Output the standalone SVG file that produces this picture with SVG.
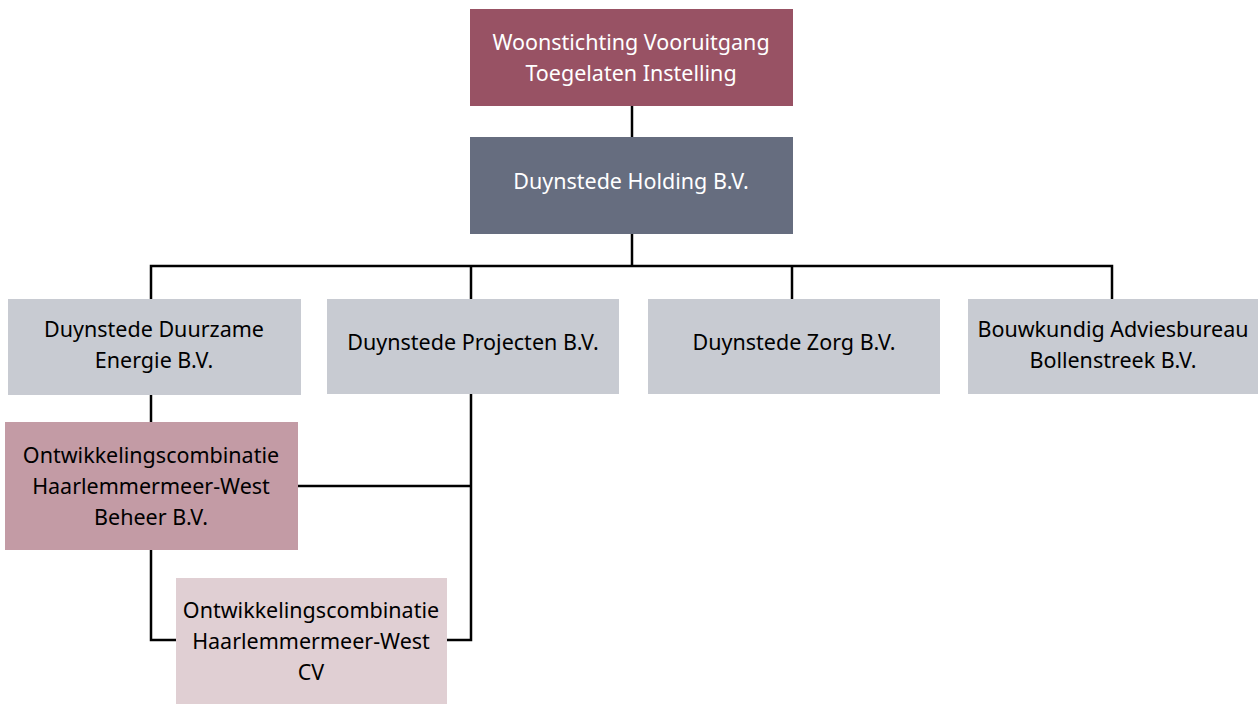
<svg xmlns="http://www.w3.org/2000/svg" width="1258" height="704" viewBox="0 0 1258 704">
<style>
text{font-family:"Noto Sans","Open Sans",sans-serif;font-size:21.5px;text-anchor:middle}
.w{fill:#ffffff}
.k{fill:#000000}
.g{fill:#c8cbd2}
.ln{stroke:#000;stroke-width:2.5;fill:none}
</style>
<rect width="1258" height="704" fill="#fff"/>
<g id="connectors" class="ln">
<line x1="632" y1="106" x2="632" y2="137"/>
<line x1="632" y1="234" x2="632" y2="266"/>
<polyline points="151,299 151,266 1112,266 1112,299"/>
<line x1="471" y1="266" x2="471" y2="299"/>
<line x1="792" y1="266" x2="792" y2="299"/>
<line x1="151" y1="395" x2="151" y2="422"/>
<polyline points="151,550 151,640 176,640"/>
<polyline points="471,394 471,640 447,640"/>
<line x1="298" y1="486" x2="471" y2="486"/>
</g>
<g id="n-woonstichting"><rect x="470" y="9" width="323" height="97" fill="#985264"/><text class="w" x="631" y="50">Woonstichting Vooruitgang</text><text class="w" x="631" y="81">Toegelaten Instelling</text></g>
<g id="n-holding"><rect x="470" y="137" width="323" height="97" fill="#666d7f"/><text class="w" x="631" y="189">Duynstede Holding B.V.</text></g>
<g id="n-duurzame"><rect x="8" y="299" width="293" height="96" class="g"/><text class="k" x="154" y="337">Duynstede Duurzame</text><text class="k" x="154" y="368">Energie B.V.</text></g>
<g id="n-projecten"><rect x="327" y="299" width="292" height="95" class="g"/><text class="k" x="473" y="350">Duynstede Projecten B.V.</text></g>
<g id="n-zorg"><rect x="648" y="299" width="292" height="95" class="g"/><text class="k" x="794" y="350">Duynstede Zorg B.V.</text></g>
<g id="n-bouwkundig"><rect x="968" y="299" width="290" height="95" class="g"/><text class="k" x="1113" y="337">Bouwkundig Adviesbureau</text><text class="k" x="1113" y="368">Bollenstreek B.V.</text></g>
<g id="n-ohw-beheer"><rect x="5" y="422" width="293" height="128" fill="#c39ba5"/><text class="k" x="151" y="463">Ontwikkelingscombinatie</text><text class="k" x="151" y="494">Haarlemmermeer-West</text><text class="k" x="151" y="525">Beheer B.V.</text></g>
<g id="n-ohw-cv"><rect x="176" y="578" width="271" height="126" fill="#e0cfd3"/><text class="k" x="311" y="618">Ontwikkelingscombinatie</text><text class="k" x="311" y="649">Haarlemmermeer-West</text><text class="k" x="311" y="680">CV</text></g>
</svg>
